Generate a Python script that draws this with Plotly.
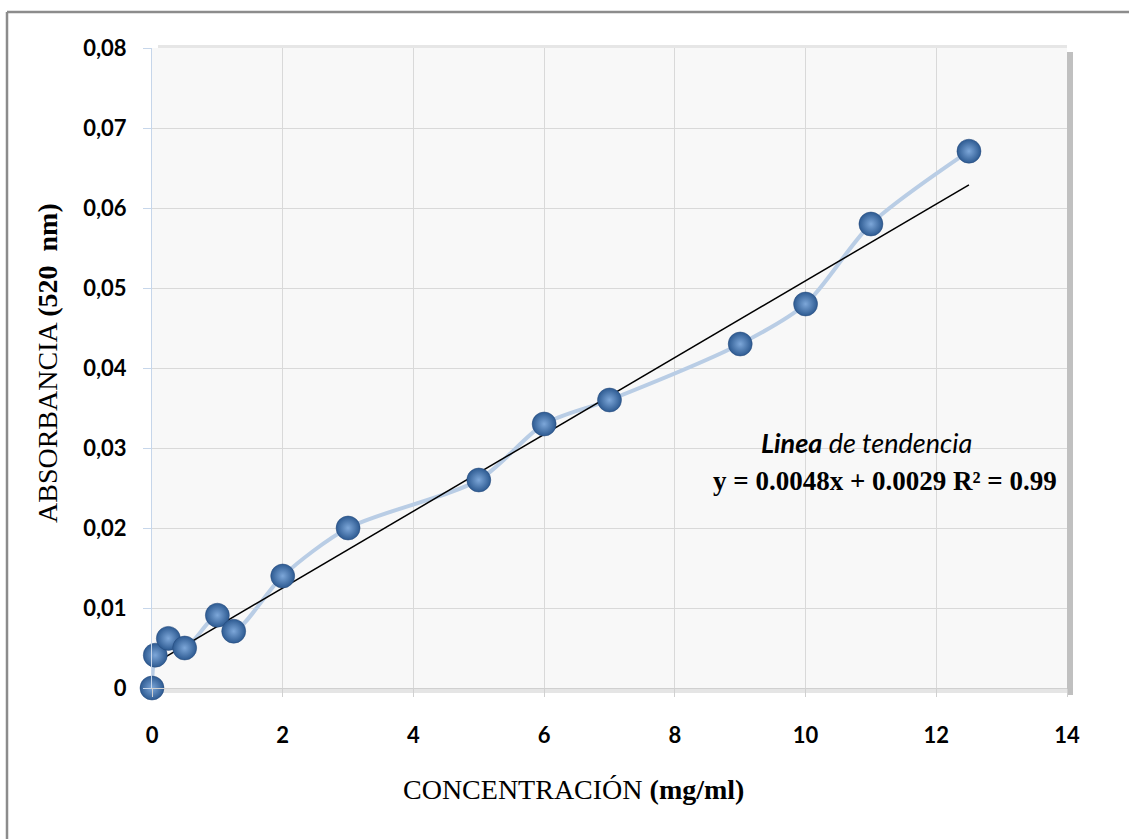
import plotly.graph_objects as go

conc = [0, 0.05, 0.25, 0.5, 1.0, 1.25, 2, 3, 5, 6, 7, 9, 10, 11, 12.5]
absorb = [0.0, 0.0041, 0.0062, 0.0050, 0.0091, 0.0071, 0.0140, 0.0200, 0.0260, 0.0330, 0.0360, 0.0430, 0.0480, 0.0580, 0.0671]
slope = 0.0048
intercept = 0.0029
trend_x = [0, 12.5]
trend_y = [intercept + slope * v for v in trend_x]

x_ticks = [0, 2, 4, 6, 8, 10, 12, 14]
y_ticks = [0, 0.01, 0.02, 0.03, 0.04, 0.05, 0.06, 0.07, 0.08]
y_ticktext = ["0", "0,01", "0,02", "0,03", "0,04", "0,05", "0,06", "0,07", "0,08"]

W, H = 1129, 839
L, R, T, B = 152, 62, 48, 151
pw, ph = W - L - R, H - T - B

def px(xp):
    return (xp - L) / pw

def py(yp):
    return (H - B - yp) / ph

fig = go.Figure()
fig.add_trace(go.Scatter(
    x=conc, y=absorb, mode="lines", line=dict(color="#B9CDE5", width=4, shape="spline", smoothing=0.8),
    hoverinfo="skip", showlegend=False))
fig.add_trace(go.Scatter(
    x=trend_x, y=trend_y, mode="lines", line=dict(color="black", width=1.5), showlegend=False))
fig.add_trace(go.Scatter(
    x=conc, y=absorb, mode="markers",
    marker=dict(size=24, color="#2D5A91", gradient=dict(type="radial", color="#7DA7D9"),
                line=dict(width=0.5, color="#24497A")),
    showlegend=False, cliponaxis=False))

shapes = [
    # outer border
    dict(type="line", xref="paper", yref="paper", x0=px(7), x1=px(1129), y0=py(12), y1=py(12),
         line=dict(color="#8C8C8C", width=2.5)),
    dict(type="line", xref="paper", yref="paper", x0=px(7), x1=px(7), y0=py(12), y1=py(839),
         line=dict(color="#8C8C8C", width=2.5)),
    # shadow right and bottom
    dict(type="rect", xref="paper", yref="paper", x0=px(1067), x1=px(1073), y0=py(695), y1=py(52),
         fillcolor="rgba(140,140,140,0.55)", line=dict(width=0), layer="below"),
    dict(type="rect", xref="paper", yref="paper", x0=px(156), x1=px(1073), y0=py(693), y1=py(688),
         fillcolor="rgba(190,190,190,0.4)", line=dict(width=0), layer="below"),
    dict(type="rect", xref="paper", yref="paper", x0=px(158), x1=px(1067), y0=py(48), y1=py(45),
         fillcolor="rgba(205,205,205,0.5)", line=dict(width=0), layer="below"),
]

ann_common = dict(xref="paper", yref="paper", showarrow=False, xanchor="center", yanchor="middle")
annotations = [
    dict(text="<i><b>Linea</b> de tendencia</i>", x=px(866), y=py(442),
         font=dict(family="Lato", size=27, color="black"), **ann_common),
    dict(text="<b>y = 0.0048x + 0.0029 R² = 0.99</b>", x=px(885), y=py(481),
         font=dict(family="Liberation Serif", size=27, color="black"), **ann_common),
    dict(text="CONCENTRACIÓN <b>(mg/ml)</b>", x=px(573), y=py(789),
         font=dict(family="Liberation Serif", size=28, color="black"), **ann_common),
    dict(text="ABSORBANCIA <b>(520  nm)</b>", x=px(47), y=py(363), textangle=-90,
         font=dict(family="Liberation Serif", size=28, color="black"), **ann_common),
]

fig.update_layout(
    width=W, height=H, margin=dict(l=L, r=R, t=T, b=B),
    paper_bgcolor="white", plot_bgcolor="#F8F8F8",
    shapes=shapes, annotations=annotations, showlegend=False,
    xaxis=dict(range=[0, 14], tickvals=x_ticks, ticktext=[str(v) for v in x_ticks],
               showgrid=True, gridcolor="#D9D9D9", gridwidth=1, zeroline=False,
               showline=True, linecolor="#D0D0D0", linewidth=1,
               ticks="outside", ticklen=8, tickcolor="#D0D0D0", ticklabelstandoff=20,
               tickfont=dict(family="Lato", size=22, color="black", weight="bold")),
    yaxis=dict(range=[0, 0.08], tickvals=y_ticks, ticktext=y_ticktext,
               showgrid=True, gridcolor="#D9D9D9", gridwidth=1, zeroline=False,
               showline=True, linecolor="#C6D6EA", linewidth=1,
               ticks="outside", ticklen=8, tickcolor="#C6D6EA", ticklabelstandoff=12,
               tickfont=dict(family="Lato", size=22, color="black", weight="bold")),
)

fig.write_html("out.html")
